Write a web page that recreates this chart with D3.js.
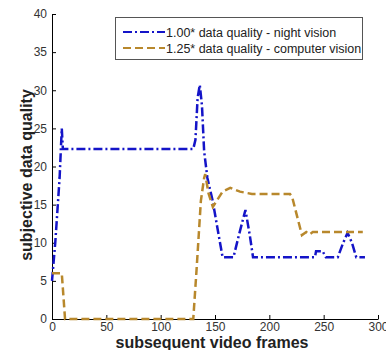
<!DOCTYPE html>
<html>
<head>
<meta charset="utf-8">
<script src="https://cdn.jsdelivr.net/npm/d3@7"></script>
<style>
  body { margin: 0; background: #fff; }
  svg { display: block; font-family: "Liberation Sans", Arial, sans-serif; }
</style>
</head>
<body>
<svg id="chart" width="386" height="350"></svg>
<script>
// night vision (blue, dash-dot)
const nightFrames = [0, 3, 7, 9, 10, 130, 132, 134, 136, 138, 140, 143, 148, 153, 157, 167, 172, 178, 182, 185, 242, 243, 249, 252, 263, 268, 272, 276, 280, 288];
const nightValues = [5, 10, 18.5, 25, 22.3, 22.3, 23.5, 29, 30.7, 28, 22, 18.5, 15.4, 11.3, 8.1, 8.1, 11, 14.3, 11, 8.1, 8.1, 8.9, 8.9, 8.1, 8.1, 10, 11.3, 10, 8.1, 8.1];

// computer vision (gold, dashed)
const compFrames = [0, 9, 12, 130, 133, 137, 140, 141, 144, 148, 157, 164, 173, 184, 219, 221, 230, 234, 237, 240, 286];
const compValues = [6, 6, 0, 0, 6.4, 15.5, 18.5, 19, 16.5, 14.7, 16.7, 17.2, 16.7, 16.4, 16.4, 16, 11, 11.4, 11.1, 11.4, 11.4];

const xTicks = [0, 50, 100, 150, 200, 250, 300];
const yTicks = [0, 5, 10, 15, 20, 25, 30, 35, 40];
const legendLabels = ["1.00* data quality - night vision", "1.25* data quality - computer vision"];

const svg = d3.select("#chart");
const plotL = 52, plotR = 378, plotT = 14, plotB = 319;

const x = d3.scaleLinear().domain([0, 300]).range([plotL, plotR]);
const y = d3.scaleLinear().domain([0, 40]).range([plotB, plotT]);

// axes (MATLAB style, ticks pointing inward)
const xAxis = svg.append("g")
  .attr("transform", `translate(0,${plotB})`)
  .call(d3.axisBottom(x).tickValues(xTicks).tickSize(-4).tickPadding(3).tickSizeOuter(0));
const yAxis = svg.append("g")
  .attr("transform", `translate(${plotL},0)`)
  .call(d3.axisLeft(y).tickValues(yTicks).tickSize(-4).tickPadding(5).tickSizeOuter(0));

[xAxis, yAxis].forEach(g => {
  g.select(".domain").attr("stroke", "#000").attr("stroke-width", 1);
  g.selectAll(".tick line").attr("stroke", "#000");
  g.selectAll(".tick text")
    .attr("font-size", 12)
    .attr("font-family", "Liberation Sans, Arial, sans-serif")
    .attr("fill", "#333");
});

const line = d3.line().x(d => x(d[0])).y(d => y(d[1]));

const nightPts = nightFrames.map((f, i) => [f, nightValues[i]]);
const compPts = compFrames.map((f, i) => [f, compValues[i]]);

svg.append("path")
  .attr("d", line(nightPts))
  .attr("fill", "none")
  .attr("stroke", "#1414c8")
  .attr("stroke-width", 2.5)
  .attr("stroke-dasharray", "9,3,2,3");

svg.append("path")
  .attr("d", line(compPts))
  .attr("fill", "none")
  .attr("stroke", "#b8882c")
  .attr("stroke-width", 2.5)
  .attr("stroke-dasharray", "8,4");

// axis labels
svg.append("text")
  .attr("x", 212)
  .attr("y", 348)
  .attr("text-anchor", "middle")
  .attr("font-size", 16)
  .attr("font-weight", "bold")
  .attr("fill", "#222")
  .text("subsequent video frames");

svg.append("text")
  .attr("transform", "translate(32,175) rotate(-90)")
  .attr("text-anchor", "middle")
  .attr("font-size", 16)
  .attr("font-weight", "bold")
  .attr("fill", "#222")
  .text("subjective data quality");

// legend
const lg = svg.append("g");
lg.append("rect")
  .attr("x", 115.5).attr("y", 17.5)
  .attr("width", 247).attr("height", 42)
  .attr("fill", "#fff")
  .attr("stroke", "#555")
  .attr("stroke-width", 1);

const legendStyles = [
  { color: "#1414c8", dash: "9,3,2,3" },
  { color: "#b8882c", dash: "8,4" }
];
legendLabels.forEach((label, i) => {
  const ly = 32 + i * 16;
  lg.append("line")
    .attr("x1", 123).attr("x2", 165)
    .attr("y1", ly).attr("y2", ly)
    .attr("stroke", legendStyles[i].color)
    .attr("stroke-width", 2)
    .attr("stroke-dasharray", legendStyles[i].dash);
  lg.append("text")
    .attr("x", 166)
    .attr("y", ly + 4.5)
    .attr("font-size", 12.5)
    .attr("fill", "#222")
    .text(label);
});
</script>
</body>
</html>
